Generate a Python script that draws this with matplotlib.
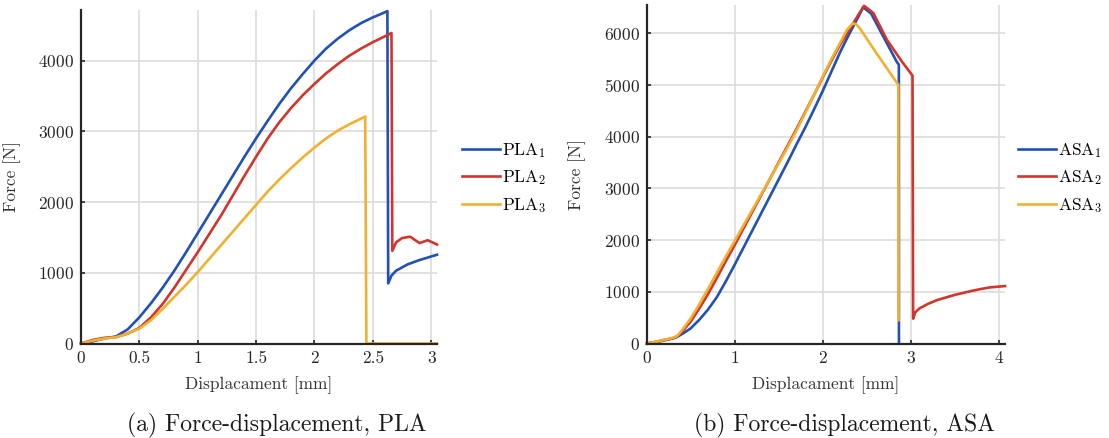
import matplotlib
matplotlib.use("Agg")
import matplotlib.pyplot as plt

# ---- data ----
# (a) PLA specimens: displacement [mm], force [N]
pla1_x = [0, 0.1, 0.2, 0.3, 0.4, 0.5, 0.6, 0.7, 0.8, 0.9, 1.0, 1.1, 1.2, 1.3, 1.4, 1.5,
          1.6, 1.7, 1.8, 1.9, 2.0, 2.1, 2.2, 2.3, 2.4, 2.5, 2.6, 2.625,
          2.632, 2.66, 2.7, 2.8, 2.9, 3.0, 3.05]
pla1_y = [0, 30, 70, 100, 200, 370, 570, 790, 1030, 1290, 1560, 1830, 2100, 2370, 2640, 2900,
          3150, 3390, 3610, 3810, 4000, 4170, 4310, 4430, 4530, 4610, 4680, 4700,
          850, 960, 1030, 1120, 1180, 1230, 1255]

pla2_x = [0, 0.1, 0.2, 0.3, 0.4, 0.5, 0.6, 0.7, 0.8, 0.9, 1.0, 1.1, 1.2, 1.3, 1.4, 1.5,
          1.6, 1.7, 1.8, 1.9, 2.0, 2.1, 2.2, 2.3, 2.4, 2.5, 2.6, 2.66,
          2.667, 2.7, 2.75, 2.82, 2.9, 2.97, 3.05]
pla2_y = [0, 50, 80, 90, 140, 220, 370, 560, 790, 1040, 1290, 1550, 1810, 2090, 2370, 2640,
          2900, 3130, 3330, 3510, 3670, 3820, 3950, 4070, 4170, 4260, 4340, 4390,
          1310, 1430, 1490, 1510, 1420, 1460, 1400]

pla3_x = [0, 0.1, 0.2, 0.3, 0.4, 0.5, 0.6, 0.7, 0.8, 0.9, 1.0, 1.1, 1.2, 1.3, 1.4, 1.5,
          1.6, 1.7, 1.8, 1.9, 2.0, 2.1, 2.2, 2.3, 2.4, 2.435, 2.445, 3.05]
pla3_y = [0, 40, 70, 90, 140, 210, 330, 490, 660, 830, 1010, 1200, 1390, 1580, 1770, 1960,
          2150, 2320, 2480, 2630, 2770, 2900, 3010, 3100, 3180, 3210, 0, 0]

# (b) ASA specimens
asa1_x = [0, 0.1, 0.2, 0.3, 0.35, 0.4, 0.5, 0.6, 0.7, 0.8, 0.9, 1.0, 1.1, 1.2, 1.3, 1.4, 1.5,
          1.6, 1.7, 1.8, 1.9, 2.0, 2.1, 2.2, 2.3, 2.4, 2.46, 2.55, 2.69, 2.84, 2.865, 2.866]
asa1_y = [0, 20, 60, 100, 130, 180, 290, 460, 660, 900, 1200, 1520, 1850, 2180, 2510, 2840, 3170,
          3500, 3840, 4170, 4520, 4880, 5260, 5640, 5980, 6300, 6500, 6380, 5930, 5450, 5390, 0]

asa2_x = [0, 0.1, 0.2, 0.3, 0.35, 0.4, 0.5, 0.6, 0.7, 0.8, 0.9, 1.0, 1.1, 1.2, 1.3, 1.4, 1.5,
          1.6, 1.7, 1.8, 1.9, 2.0, 2.1, 2.2, 2.3, 2.4, 2.47, 2.575, 2.73, 2.9, 3.02,
          3.027, 3.05, 3.1, 3.2, 3.3, 3.4, 3.5, 3.6, 3.7, 3.8, 3.9, 4.0, 4.07]
asa2_y = [0, 30, 70, 100, 140, 220, 420, 680, 960, 1270, 1590, 1900, 2220, 2540, 2860, 3180, 3500,
          3820, 4140, 4470, 4800, 5140, 5470, 5780, 6060, 6340, 6530, 6390, 5870, 5450, 5180,
          480, 600, 680, 770, 840, 890, 940, 980, 1020, 1055, 1085, 1100, 1110]

asa3_x = [0, 0.1, 0.2, 0.3, 0.35, 0.4, 0.5, 0.6, 0.7, 0.8, 0.9, 1.0, 1.1, 1.2, 1.3, 1.4, 1.5,
          1.6, 1.7, 1.8, 1.9, 2.0, 2.1, 2.2, 2.27, 2.34, 2.38, 2.42, 2.6, 2.75, 2.86, 2.862]
asa3_y = [0, 30, 70, 110, 150, 250, 480, 760, 1060, 1370, 1680, 1980, 2280, 2580, 2880, 3180, 3480,
          3790, 4110, 4450, 4800, 5160, 5500, 5820, 6050, 6190, 6170, 6100, 5640, 5270, 5000, 450]

pla_labels = [r"PLA$_1$", r"PLA$_2$", r"PLA$_3$"]
asa_labels = [r"ASA$_1$", r"ASA$_2$", r"ASA$_3$"]
colors = ["#2151b5", "#d2352a", "#f0b030"]

plt.rcParams["font.family"] = "cmr10"
plt.rcParams["mathtext.fontset"] = "cm"
plt.rcParams["axes.formatter.use_mathtext"] = True

W, H = 1109, 438
fig = plt.figure(figsize=(W / 100, H / 100), dpi=100)

ax1 = fig.add_axes([81 / W, (H - 343.5) / H, 356 / W, 333.5 / H])
ax2 = fig.add_axes([646.5 / W, (H - 343.5) / H, 358.5 / W, 338.5 / H])

FS = 12.5


def style(ax, xlim, ylim, xticks, yticks, xticklabels):
    ax.set_xlim(*xlim)
    ax.set_ylim(*ylim)
    ax.set_xticks(xticks)
    ax.set_xticklabels(xticklabels)
    ax.set_yticks(yticks)
    ax.grid(True, color="#dedede", linewidth=1.3)
    ax.set_axisbelow(True)
    for s in ["top", "right"]:
        ax.spines[s].set_visible(False)
    for s in ["left", "bottom"]:
        ax.spines[s].set_color("#262626")
        ax.spines[s].set_linewidth(1.6)
    ax.tick_params(direction="in", length=3, width=1.2, colors="#262626",
                   labelsize=FS, pad=5)
    ax.set_xlabel("Displacament [mm]", fontsize=FS, color="#333333")
    ax.set_ylabel("Force [N]", fontsize=FS, color="#333333")


style(ax1, (0, 3.05), (0, 4715), [0, 0.5, 1, 1.5, 2, 2.5, 3], [0, 1000, 2000, 3000, 4000],
      ["0", "0.5", "1", "1.5", "2", "2.5", "3"])
style(ax2, (0, 4.07), (0, 6545), [0, 1, 2, 3, 4], [0, 1000, 2000, 3000, 4000, 5000, 6000],
      ["0", "1", "2", "3", "4"])

for x, y, lab, c in zip([pla1_x, pla2_x, pla3_x], [pla1_y, pla2_y, pla3_y], pla_labels, colors):
    ax1.plot(x, y, color=c, linewidth=1.9, label=lab, clip_on=False)
for x, y, lab, c in zip([asa1_x, asa2_x, asa3_x], [asa1_y, asa2_y, asa3_y], asa_labels, colors):
    ax2.plot(x, y, color=c, linewidth=1.9, label=lab, clip_on=False)

ax1.xaxis.set_label_coords(0.5, -41.5 / 333.5)
ax2.xaxis.set_label_coords(0.5, -41.5 / 338.5)
for ax in (ax1, ax2):
    ax.xaxis.label.set_va("center")

ax1.yaxis.set_label_coords(-60 / 356, 0.5)
ax2.yaxis.set_label_coords(-60 / 358.5, 0.5)

leg_kw = dict(frameon=False, fontsize=FS, handlelength=2.2, handletextpad=0.12,
              labelspacing=0.5, borderaxespad=0, loc="center left")
ax1.legend(bbox_to_anchor=(455 / W, 1 - 178 / H), bbox_transform=fig.transFigure, **leg_kw)
ax2.legend(bbox_to_anchor=(1011 / W, 1 - 178 / H), bbox_transform=fig.transFigure, **leg_kw)

fig.text(277 / W, 1 - 425 / H, "(a) Force-displacement, PLA", ha="center", va="center",
         fontsize=17, color="#1a1a1a")
fig.text(845 / W, 1 - 425 / H, "(b) Force-displacement, ASA", ha="center", va="center",
         fontsize=17, color="#1a1a1a")

fig.savefig("out.png", dpi=100)
